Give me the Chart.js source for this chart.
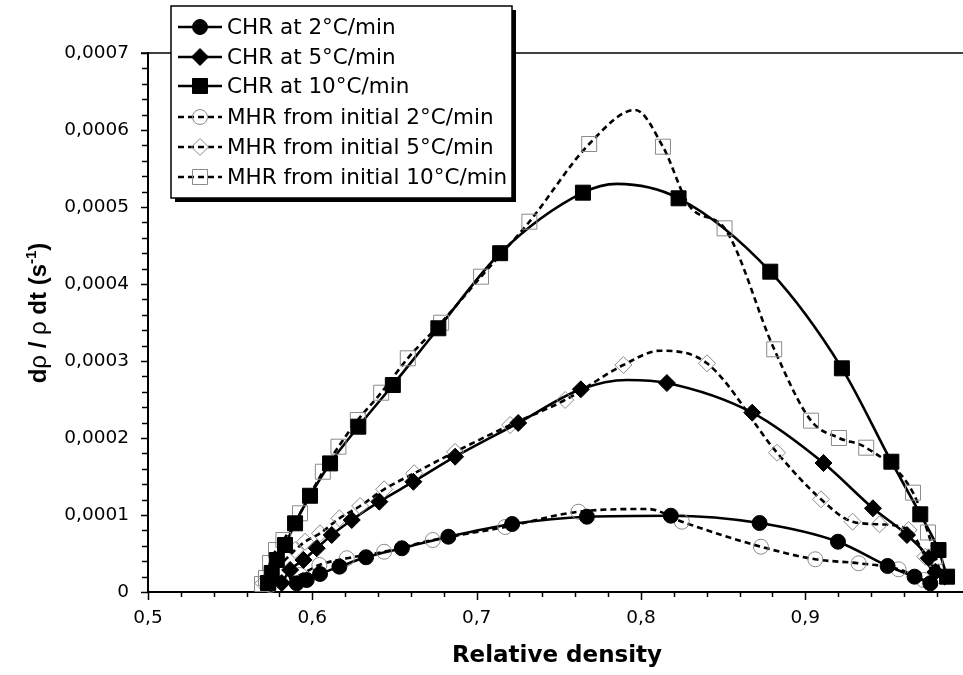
<!DOCTYPE html>
<html>
<head>
<meta charset="utf-8">
<script src="https://cdn.jsdelivr.net/npm/chart.js@4.4.1/dist/chart.umd.min.js"></script>
<style>
  html, body { margin: 0; padding: 0; background: #fff; }
  #wrap { width: 963px; height: 675px; }
</style>
</head>
<body>
<div id="wrap"><canvas id="chart" width="963" height="675"></canvas></div>
<script>
// values: relative density vs densification rate (1/s)
// "marks" = plotted symbols, "extra" = unmarked points that shape the curve between them
const chr2MarkX = [0.5905, 0.5966, 0.6047, 0.6165, 0.6327, 0.6545, 0.6828, 0.7216, 0.7671, 0.8182, 0.8722, 0.9199, 0.9501, 0.9665, 0.9761];
const chr2MarkY = [0.113e-4, 0.156e-4, 0.234e-4, 0.329e-4, 0.451e-4, 0.568e-4, 0.718e-4, 0.883e-4, 0.978e-4, 0.991e-4, 0.896e-4, 0.653e-4, 0.338e-4, 0.199e-4, 0.113e-4];
const chr2ExtraX = [0.9804];
const chr2ExtraY = [0.078e-4];

const chr5MarkX = [0.5814, 0.5865, 0.5946, 0.6027, 0.6118, 0.624, 0.6408, 0.6615, 0.6869, 0.7253, 0.7634, 0.8158, 0.8677, 0.9111, 0.9412, 0.9619, 0.9751, 0.9792];
const chr5MarkY = [0.117e-4, 0.286e-4, 0.416e-4, 0.568e-4, 0.74e-4, 0.935e-4, 1.173e-4, 1.432e-4, 1.757e-4, 2.195e-4, 2.632e-4, 2.714e-4, 2.329e-4, 1.675e-4, 1.087e-4, 0.74e-4, 0.438e-4, 0.26e-4];
const chr5ExtraX = [0.7916];
const chr5ExtraY = [2.753e-4];

const chr10MarkX = [0.573, 0.5753, 0.5784, 0.5834, 0.5895, 0.5986, 0.6108, 0.628, 0.649, 0.6767, 0.7143, 0.7647, 0.8229, 0.8787, 0.9223, 0.9524, 0.97, 0.9811, 0.9863];
const chr10MarkY = [0.117e-4, 0.247e-4, 0.416e-4, 0.61e-4, 0.892e-4, 1.25e-4, 1.67e-4, 2.147e-4, 2.688e-4, 3.425e-4, 4.40e-4, 5.186e-4, 5.113e-4, 4.16e-4, 2.905e-4, 1.692e-4, 1.009e-4, 0.545e-4, 0.199e-4];
const chr10ExtraX = [0.7853];
const chr10ExtraY = [5.30e-4];

const mhr2MarkX = [0.5743, 0.5925, 0.6043, 0.621, 0.6437, 0.6733, 0.7174, 0.762, 0.8249, 0.873, 0.9061, 0.9325, 0.9568, 0.972];
const mhr2MarkY = [0.091e-4, 0.221e-4, 0.351e-4, 0.438e-4, 0.523e-4, 0.675e-4, 0.844e-4, 1.043e-4, 0.913e-4, 0.588e-4, 0.425e-4, 0.373e-4, 0.295e-4, 0.156e-4];
const mhr2ExtraX = [0.8044, 0.9792];
const mhr2ExtraY = [1.078e-4, 0.091e-4];

const mhr5MarkX = [0.5702, 0.5895, 0.5956, 0.6047, 0.6165, 0.6291, 0.6437, 0.662, 0.6869, 0.7204, 0.7539, 0.7893, 0.8402, 0.8828, 0.9096, 0.9288, 0.9452, 0.9629, 0.973];
const mhr5MarkY = [0.113e-4, 0.545e-4, 0.653e-4, 0.762e-4, 0.957e-4, 1.117e-4, 1.334e-4, 1.542e-4, 1.82e-4, 2.169e-4, 2.494e-4, 2.948e-4, 2.97e-4, 1.809e-4, 1.204e-4, 0.913e-4, 0.879e-4, 0.805e-4, 0.458e-4];
const mhr5ExtraX = [0.8117, 0.9791];
const mhr5ExtraY = [3.134e-4, 0.156e-4];

const mhr10MarkX = [0.5694, 0.5718, 0.5743, 0.5779, 0.5824, 0.5925, 0.6064, 0.6159, 0.6277, 0.6419, 0.6581, 0.6784, 0.7027, 0.7321, 0.7685, 0.8134, 0.8509, 0.8811, 0.9035, 0.9205, 0.9371, 0.9656, 0.9747, 0.9791];
const mhr10MarkY = [0.104e-4, 0.182e-4, 0.377e-4, 0.545e-4, 0.675e-4, 1.022e-4, 1.562e-4, 1.887e-4, 2.234e-4, 2.588e-4, 3.035e-4, 3.497e-4, 4.095e-4, 4.809e-4, 5.818e-4, 5.783e-4, 4.723e-4, 3.152e-4, 2.225e-4, 2.0e-4, 1.874e-4, 1.29e-4, 0.773e-4, 0.458e-4];
const mhr10ExtraX = [0.7965, 0.83, 0.9852];
const mhr10ExtraY = [6.26e-4, 5.0e-4, 0.091e-4];

const xTickValues = [0.5, 0.6, 0.7, 0.8, 0.9];
const yTickValues = [0, 0.0001, 0.0002, 0.0003, 0.0004, 0.0005, 0.0006, 0.0007];

const toPoints = (xs, ys) => xs.map((x, i) => ({ x, y: ys[i] }));
const curve = (mx, my, ex, ey) => toPoints(mx, my).concat(toPoints(ex, ey)).sort((a, b) => a.x - b.x);

const GREY = '#8a8a8a';
const series = [
  { label: 'CHR at 2°C/min', marks: toPoints(chr2MarkX, chr2MarkY), line: curve(chr2MarkX, chr2MarkY, chr2ExtraX, chr2ExtraY),
    dash: [], style: 'circle', radius: 7.5, fill: '#000', edge: '#000', edgeW: 1 },
  { label: 'CHR at 5°C/min', marks: toPoints(chr5MarkX, chr5MarkY), line: curve(chr5MarkX, chr5MarkY, chr5ExtraX, chr5ExtraY),
    dash: [], style: 'rectRot', radius: 8.5, fill: '#000', edge: '#000', edgeW: 1 },
  { label: 'CHR at 10°C/min', marks: toPoints(chr10MarkX, chr10MarkY), line: curve(chr10MarkX, chr10MarkY, chr10ExtraX, chr10ExtraY),
    dash: [], style: 'rect', radius: 10.6, fill: '#000', edge: '#000', edgeW: 1 },
  { label: 'MHR from initial 2°C/min', marks: toPoints(mhr2MarkX, mhr2MarkY), line: curve(mhr2MarkX, mhr2MarkY, mhr2ExtraX, mhr2ExtraY),
    dash: [6, 4], style: 'circle', radius: 7.5, fill: 'rgba(0,0,0,0)', edge: GREY, edgeW: 1 },
  { label: 'MHR from initial 5°C/min', marks: toPoints(mhr5MarkX, mhr5MarkY), line: curve(mhr5MarkX, mhr5MarkY, mhr5ExtraX, mhr5ExtraY),
    dash: [6, 4], style: 'rectRot', radius: 8.5, fill: 'rgba(0,0,0,0)', edge: GREY, edgeW: 1 },
  { label: 'MHR from initial 10°C/min', marks: toPoints(mhr10MarkX, mhr10MarkY), line: curve(mhr10MarkX, mhr10MarkY, mhr10ExtraX, mhr10ExtraY),
    dash: [6, 4], style: 'rect', radius: 10.6, fill: 'rgba(0,0,0,0)', edge: GREY, edgeW: 1 }
];

const datasets = [];
series.forEach(s => {
  datasets.push({
    label: s.label + ' curve', data: s.line, showLine: true, borderColor: '#000', borderWidth: 2.6,
    borderDash: s.dash, pointRadius: 0, cubicInterpolationMode: 'monotone', clip: false, order: 2
  });
  datasets.push({
    label: s.label, data: s.marks, showLine: false, pointStyle: s.style, pointRadius: s.radius,
    backgroundColor: s.fill, borderColor: s.edge, borderWidth: s.edgeW, clip: false, order: 1
  });
});

const fmt = v => v === 0 ? '0' : String(+v.toFixed(4)).replace('.', ',');

const decor = {
  id: 'decor',
  beforeDatasetsDraw(chart) {
    const { ctx, chartArea: a } = chart;
    ctx.save();
    ctx.strokeStyle = '#000';
    ctx.lineWidth = 1.5;
    ctx.beginPath();
    ctx.moveTo(a.left - 7, a.top);
    ctx.lineTo(chart.width, a.top);
    ctx.stroke();
    ctx.restore();
  },
  afterDraw(chart) {
    const { ctx, chartArea: a, scales: { x, y } } = chart;
    ctx.save();
    ctx.strokeStyle = '#000';
    ctx.lineWidth = 1.5;
    // minor + major ticks
    for (let i = 0; i <= 24; i++) {
      const v = 0.5 + i * 0.02;
      const px = Math.round(x.getPixelForValue(v)) + 0.5;
      const len = i % 5 === 0 ? 8 : 5;
      ctx.beginPath(); ctx.moveTo(px, a.bottom); ctx.lineTo(px, a.bottom + len); ctx.stroke();
    }
    for (let i = 0; i <= 35; i++) {
      const v = i * 0.00002;
      const py = Math.round(y.getPixelForValue(v)) + 0.5;
      const len = i % 5 === 0 ? 7 : 6;
      ctx.beginPath(); ctx.moveTo(a.left, py); ctx.lineTo(a.left - len, py); ctx.stroke();
    }

    // axis titles
    ctx.fillStyle = '#000';
    ctx.font = 'bold 23px "DejaVu Sans"';
    ctx.textAlign = 'center';
    ctx.textBaseline = 'alphabetic';
    ctx.fillText('Relative density', 557, 662);

    const parts = [
      { t: 'd', f: 'bold 24px "Liberation Sans"' },
      { t: 'ρ', f: '24px "Liberation Sans"' },
      { t: ' / ', f: 'bold 24px "Liberation Sans"' },
      { t: 'ρ', f: '24px "Liberation Sans"' },
      { t: ' dt (s', f: 'bold 24px "Liberation Sans"' },
      { t: '-1', f: 'bold 15px "Liberation Sans"', sup: true },
      { t: ')', f: 'bold 24px "Liberation Sans"' }
    ];
    let total = 0;
    parts.forEach(p => { ctx.font = p.f; p.w = ctx.measureText(p.t).width; total += p.w; });
    ctx.translate(46, 313);
    ctx.rotate(-Math.PI / 2);
    ctx.textAlign = 'left';
    let cx = -total / 2;
    parts.forEach(p => {
      ctx.font = p.f;
      ctx.fillText(p.t, cx, p.sup ? -10 : 0);
      cx += p.w;
    });
    ctx.setTransform(1, 0, 0, 1, 0, 0);

    // legend box with shadow
    const bx = 171, by = 6, bw = 341, bh = 192;
    ctx.fillStyle = '#000';
    ctx.fillRect(bx + 4, by + 4, bw, bh);
    ctx.fillStyle = '#fff';
    ctx.fillRect(bx, by, bw, bh);
    ctx.strokeStyle = '#000';
    ctx.lineWidth = 1.5;
    ctx.strokeRect(bx, by, bw, bh);

    const rowY = [27, 57, 86, 117, 147, 177];
    series.forEach((s, i) => {
      const ry = rowY[i];
      ctx.save();
      ctx.strokeStyle = '#000';
      ctx.lineWidth = 2.6;
      ctx.setLineDash(s.dash);
      ctx.beginPath(); ctx.moveTo(178, ry); ctx.lineTo(222, ry); ctx.stroke();
      ctx.restore();
      ctx.save();
      ctx.fillStyle = s.fill;
      ctx.strokeStyle = s.edge;
      ctx.lineWidth = s.edgeW;
      Chart.helpers.drawPoint(ctx, { pointStyle: s.style, radius: s.radius, rotation: 0, borderWidth: s.edgeW }, 200, ry);
      ctx.restore();
      ctx.fillStyle = '#000';
      ctx.font = '21.5px "DejaVu Sans"';
      ctx.textAlign = 'left';
      ctx.textBaseline = 'middle';
      ctx.fillText(s.label, 227, ry + 1);
    });
    ctx.restore();
  }
};

new Chart(document.getElementById('chart'), {
  type: 'scatter',
  data: { datasets },
  options: {
    responsive: false,
    animation: false,
    events: [],
    layout: { autoPadding: false, padding: { top: 53, right: 0, left: 0, bottom: 0 } },
    plugins: { legend: { display: false }, tooltip: { enabled: false } },
    scales: {
      x: {
        type: 'linear', min: 0.5, max: 0.996,
        afterBuildTicks: s => { s.ticks = xTickValues.map(v => ({ value: v })); },
        afterFit: s => { s.height = 83; s.paddingLeft = 0; s.paddingRight = 0; },
        grid: { display: true, drawOnChartArea: false, drawTicks: false },
        border: { display: true, color: '#000', width: 2 },
        ticks: { color: '#000', font: { family: 'DejaVu Sans', size: 18.5 }, padding: 15, maxRotation: 0, callback: v => fmt(v) }
      },
      y: {
        type: 'linear', min: 0, max: 0.0007,
        afterBuildTicks: s => { s.ticks = yTickValues.map(v => ({ value: v })); },
        afterFit: s => { s.width = 148; s.paddingTop = 0; s.paddingBottom = 0; },
        grid: { display: true, drawOnChartArea: false, drawTicks: false },
        border: { display: true, color: '#000', width: 2 },
        ticks: { color: '#000', font: { family: 'DejaVu Sans', size: 18.5 }, padding: 19, callback: v => fmt(v) }
      }
    }
  },
  plugins: [decor]
});
</script>
</body>
</html>
